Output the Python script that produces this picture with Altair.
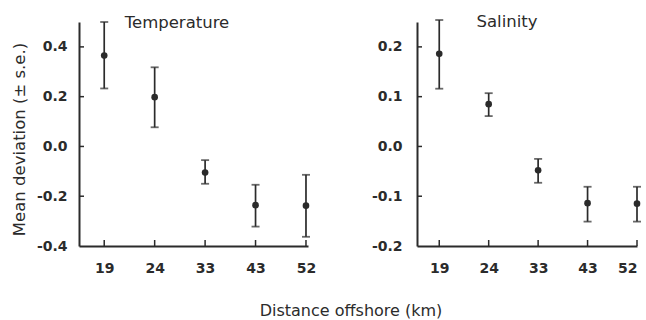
import altair as alt
import pandas as pd

# ---- data ----
distances = ["19", "24", "33", "43", "52"]

temp_mean = [0.365, 0.198, -0.105, -0.236, -0.238]
temp_lower = [0.233, 0.077, -0.150, -0.322, -0.363]
temp_upper = [0.500, 0.318, -0.055, -0.154, -0.114]

sal_mean = [0.186, 0.085, -0.048, -0.114, -0.115]
sal_lower = [0.116, 0.061, -0.073, -0.151, -0.151]
sal_upper = [0.254, 0.107, -0.025, -0.081, -0.081]

temp_ticks = [-0.4, -0.2, 0.0, 0.2, 0.4]
sal_ticks = [-0.2, -0.1, 0.0, 0.1, 0.2]

panel_titles = ["Temperature", "Salinity"]
y_title = "Mean deviation (\u00b1 s.e.)"
x_title = "Distance offshore (km)"

INK = "#2b2b2b"
FONT = "DejaVu Sans"
H = 224

label_expr = "[" + ",".join("'%s'" % d for d in distances) + "][datum.value]"
ylabel_expr = "replace(format(datum.value, '.1f'), '\u2212', '-')"


def text_layer(txt, x, y, baseline, size=16.5):
    return alt.Chart(pd.DataFrame({"t": [txt]})).mark_text(
        font=FONT, fontSize=size, color=INK, align="center", baseline=baseline
    ).encode(text="t:N", x=alt.value(x), y=alt.value(y))


def panel(title, mean, lower, upper, ydomain, yticks, width, xdomain,
          ytitle, ylabelpad, title_x, title_y, extra=None):
    df = pd.DataFrame({"pos": list(range(len(distances))), "dist": distances,
                       "mean": mean, "lower": lower, "upper": upper})
    xaxis = alt.Axis(values=list(range(len(distances))), labelExpr=label_expr,
                     title=None, ticks=False, tickSize=0, grid=False,
                     domainWidth=2, domainColor=INK, labelPadding=15,
                     labelFont=FONT, labelFontSize=14, labelFontWeight="bold",
                     labelColor=INK)
    yaxis_kw = dict(values=yticks, labelExpr=ylabel_expr, ticks=False, tickSize=0,
                    grid=False, domainWidth=2, domainColor=INK,
                    labelPadding=ylabelpad, labelFont=FONT, labelFontSize=14,
                    labelFontWeight="bold", labelColor=INK)
    if ytitle:
        yaxis = alt.Axis(title=ytitle, titleFont=FONT, titleFontSize=16.5,
                         titleFontWeight="normal", titleColor=INK,
                         titlePadding=9, titleY=117, **yaxis_kw)
    else:
        yaxis = alt.Axis(title=None, **yaxis_kw)

    xs = alt.Scale(domain=xdomain, nice=False, zero=False)
    ys = alt.Scale(domain=ydomain, nice=False, zero=False)

    base = alt.Chart(df)
    pts = base.mark_point(filled=True, size=44, color=INK, opacity=1).encode(
        x=alt.X("pos:Q", scale=xs, axis=xaxis),
        y=alt.Y("mean:Q", scale=ys, axis=yaxis),
    )
    bars = base.mark_rule(color=INK, strokeWidth=1.7).encode(
        x=alt.X("pos:Q", scale=xs, axis=xaxis),
        y=alt.Y("lower:Q", scale=ys, axis=yaxis),
        y2="upper:Q",
    )
    cap_hi = base.mark_tick(color=INK, size=8, thickness=1.8, orient="horizontal").encode(
        x=alt.X("pos:Q", scale=xs, axis=xaxis),
        y=alt.Y("upper:Q", scale=ys, axis=yaxis),
    )
    cap_lo = base.mark_tick(color=INK, size=8, thickness=1.8, orient="horizontal").encode(
        x=alt.X("pos:Q", scale=xs, axis=xaxis),
        y=alt.Y("lower:Q", scale=ys, axis=yaxis),
    )
    # inward tick marks
    ytk = pd.DataFrame({"v": yticks[1:]})
    ytick_layer = alt.Chart(ytk).mark_rule(color=INK, strokeWidth=1.5).encode(
        y=alt.Y("v:Q", scale=ys, axis=yaxis),
        x=alt.value(0), x2=alt.value(5),
    )
    xtick_layer = base.mark_rule(color=INK, strokeWidth=1.5).encode(
        x=alt.X("pos:Q", scale=xs, axis=xaxis),
        y=alt.value(H), y2=alt.value(H - 6),
    )
    layers = [pts, bars, cap_hi, cap_lo, ytick_layer, xtick_layer,
              text_layer(title, title_x, title_y, "alphabetic")]
    if extra is not None:
        layers.append(extra)
    return alt.layer(*layers).properties(width=width, height=H)


left = panel(panel_titles[0], temp_mean, temp_lower, temp_upper, [-0.4, 0.5],
             temp_ticks, 229, [-0.5, 4.04], y_title, 12, 98, 6,
             extra=text_layer(x_title, 272, 281, "top", size=16))
right = panel(panel_titles[1], sal_mean, sal_lower, sal_upper, [-0.2, 0.25],
              sal_ticks, 220, [-0.45, 4.0], None, 15, 90, 5)

chart = alt.hconcat(left, right, spacing=109, bounds="flush").configure(
    padding={"left": 11, "top": 14, "right": 0, "bottom": 0},
    background="white").configure_view(stroke=None)

chart.save("out.html", embed_options={"renderer": "svg", "actions": False})
